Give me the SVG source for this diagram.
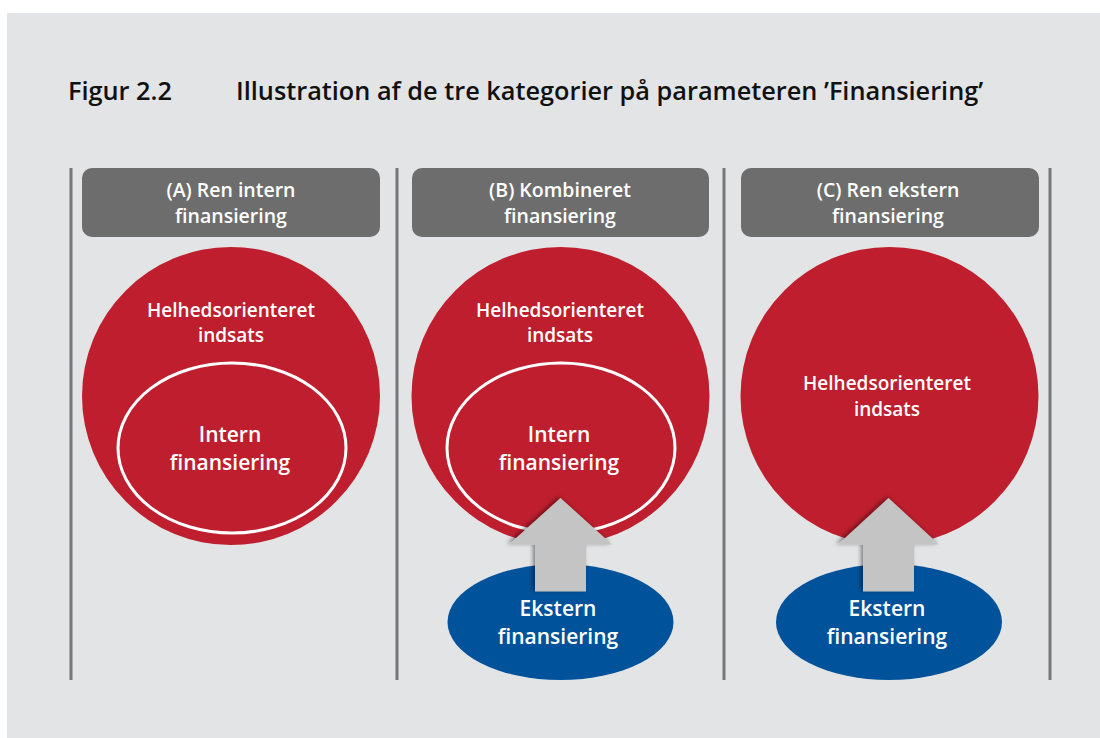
<svg xmlns="http://www.w3.org/2000/svg" width="1100" height="738" viewBox="0 0 1100 738">
  <defs>
    <style>
      .bg { fill: #e3e4e6; }
      .title { font-family: "Open Sans", "Liberation Sans", sans-serif; font-size: 25.3px; font-weight: 600; fill: #111111; }
      .divider { stroke: #777777; stroke-width: 3; }
      .hdr { fill: #6d6d6d; }
      .hdr-text { font-family: "Open Sans", "Liberation Sans", sans-serif; font-size: 19.5px; font-weight: 600; fill: #ffffff; text-anchor: middle; }
      .red { fill: #be1e2d; }
      .inner { fill: none; stroke: #ffffff; stroke-width: 3; }
      .blue { fill: #00529b; }
      .lbl { font-family: "Open Sans", "Liberation Sans", sans-serif; font-size: 19px; font-weight: 600; fill: #ffffff; text-anchor: middle; }
      .lbl-lg { font-family: "Open Sans", "Liberation Sans", sans-serif; font-size: 21px; font-weight: 600; fill: #ffffff; text-anchor: middle; }
      .arrow { fill: #c4c4c4; filter: url(#shadow); }
    </style>
    <filter id="shadow" x="-20%" y="-20%" width="140%" height="140%">
      <feDropShadow dx="-2" dy="-1" stdDeviation="2" flood-color="#000000" flood-opacity="0.45"/>
    </filter>
  </defs>

  <rect class="bg" x="7" y="13" width="1093" height="725"/>

  <g id="title">
    <text class="title" x="68" y="100">Figur 2.2</text>
    <text class="title" x="236" y="100">Illustration af de tre kategorier på parameteren ’Finansiering’</text>
  </g>

  <g id="dividers">
    <line class="divider" x1="71" y1="168" x2="71" y2="680"/>
    <line class="divider" x1="397" y1="168" x2="397" y2="680"/>
    <line class="divider" x1="724" y1="168" x2="724" y2="680"/>
    <line class="divider" x1="1050" y1="168" x2="1050" y2="680"/>
  </g>

  <g id="header-a">
    <rect class="hdr" x="82" y="168" width="298" height="69" rx="10"/>
    <text class="hdr-text" x="231" y="197">(A) Ren intern</text>
    <text class="hdr-text" x="231" y="223">finansiering</text>
  </g>
  <g id="header-b">
    <rect class="hdr" x="412" y="168" width="297" height="69" rx="10"/>
    <text class="hdr-text" x="560" y="197">(B) Kombineret</text>
    <text class="hdr-text" x="560" y="223">finansiering</text>
  </g>
  <g id="header-c">
    <rect class="hdr" x="741" y="168" width="298" height="69" rx="10"/>
    <text class="hdr-text" x="888" y="197">(C) Ren ekstern</text>
    <text class="hdr-text" x="888" y="223">finansiering</text>
  </g>

  <g id="indsats-a">
    <circle class="red" cx="231" cy="396" r="149"/>
    <text class="lbl" x="231" y="317">Helhedsorienteret</text>
    <text class="lbl" x="231" y="342">indsats</text>
  </g>
  <g id="intern-a">
    <ellipse class="inner" cx="232" cy="448" rx="114" ry="85"/>
    <text class="lbl-lg" x="230" y="442">Intern</text>
    <text class="lbl-lg" x="230" y="470">finansiering</text>
  </g>

  <g id="indsats-b">
    <circle class="red" cx="560.5" cy="396" r="149"/>
    <text class="lbl" x="560" y="317">Helhedsorienteret</text>
    <text class="lbl" x="560" y="342">indsats</text>
  </g>
  <g id="intern-b">
    <ellipse class="inner" cx="561" cy="448" rx="114" ry="85"/>
    <text class="lbl-lg" x="559" y="442">Intern</text>
    <text class="lbl-lg" x="559" y="470">finansiering</text>
  </g>
  <g id="ekstern-b">
    <ellipse class="blue" cx="560.5" cy="622" rx="113" ry="58"/>
    <text class="lbl-lg" x="558" y="616">Ekstern</text>
    <text class="lbl-lg" x="558" y="644">finansiering</text>
  </g>

  <g id="indsats-c">
    <circle class="red" cx="889.5" cy="396" r="149"/>
    <text class="lbl" x="887" y="390">Helhedsorienteret</text>
    <text class="lbl" x="887" y="416">indsats</text>
  </g>
  <g id="ekstern-c">
    <ellipse class="blue" cx="889" cy="622" rx="113" ry="58"/>
    <text class="lbl-lg" x="887" y="616">Ekstern</text>
    <text class="lbl-lg" x="887" y="644">finansiering</text>
  </g>

  <g id="connectors">
    <polygon id="arrow-b" class="arrow" points="560.5,498 509,544.5 535,544.5 535,591.5 586,591.5 586,544.5 612,544.5"/>
    <polygon id="arrow-c" class="arrow" points="888.5,498 838,544.5 863,544.5 863,591.5 914,591.5 914,544.5 939,544.5"/>
  </g>
</svg>
